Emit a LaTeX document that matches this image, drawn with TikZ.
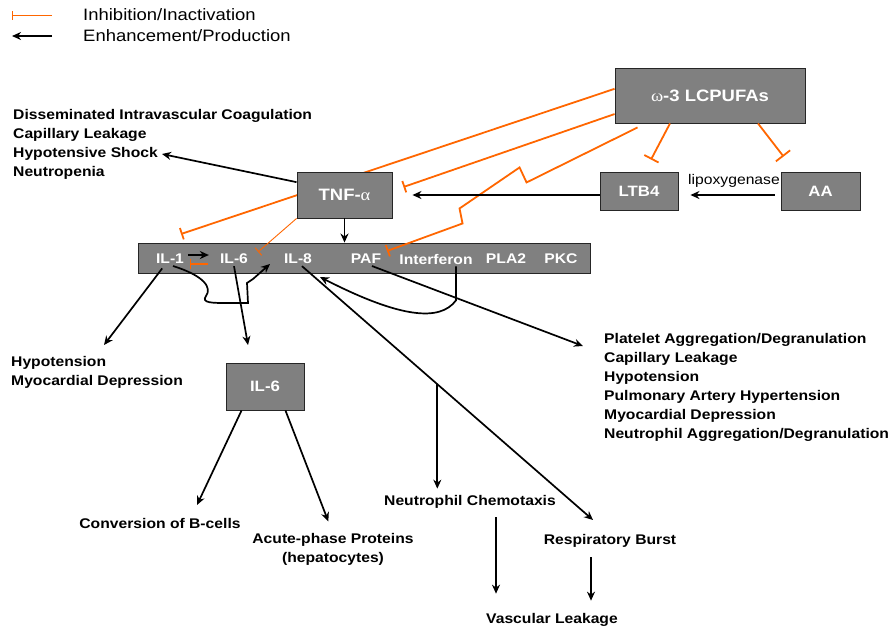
\documentclass[tikz,border=0pt]{standalone}
\usepackage{fontspec}
\setmainfont{Liberation Sans}[FakeStretch=1.12]
\newfontfamily\grkfont{Liberation Serif}[FakeStretch=1.12]
\newcommand{\grtxt}[1]{{\mdseries\grkfont #1}}
\usetikzlibrary{arrows.meta,positioning,calc}
\definecolor{boxgray}{RGB}{128,128,128}
\definecolor{inhorange}{RGB}{255,102,0}

\begin{document}
\begin{tikzpicture}[x=1pt,y=-1pt,
        box/.style={draw=black!85, line width=0.9pt, fill=boxgray, text=white,
            font=\fontsize{15}{18}\selectfont\bfseries, inner sep=0pt},
        lbl/.style={text=white, font=\fontsize{14}{18}\selectfont\bfseries, inner sep=2pt},
        eff/.style={font=\fontsize{14}{19}\selectfont\bfseries, align=left, inner sep=0pt},
        leg/.style={anchor=west, font=\fontsize{16.5}{20}\selectfont, inner sep=0pt},
        enh/.style={-{Stealth[length=9pt,width=8pt]}, line width=1.7pt},
        inh/.style={draw=inhorange, line width=1.8pt, -{Bar[width=12pt]}}]
        \useasboundingbox (0,0) rectangle (896,630);

        \node[leg] (leginh) at (83,15) {Inhibition/Inactivation};
        \node[leg] (legenh) at (83,36) {Enhancement/Production};
        \draw[inh, line width=1pt, -{Bar[width=9pt]}] ([xshift=-31pt]leginh.west) -- ++(-40,0);
        \draw[enh, line width=1.8pt] ([xshift=-31pt]legenh.west) -- ++(-40,0);

        \begin{scope}
            \node[box, minimum width=190pt, minimum height=55pt, font=\fontsize{16.5}{18}\selectfont\bfseries]
            (omega) at (710,95.5) {\grtxt{ω}-3 LCPUFAs};
            \node[box, minimum width=452pt, minimum height=30pt] (cyto) at (364,258) {};
            \coordinate (il1inh) at (181,234);
            \draw[inh] (omega.176) -- (il1inh);
            \node[box, minimum width=95pt, minimum height=46pt, font=\fontsize{16.5}{18}\selectfont\bfseries]
            (tnf) at (344.5,195) {TNF-\grtxt{α}};
            \node[box, minimum width=78pt, minimum height=38pt] (ltb) at (639,191) {LTB4};
            \node[box, minimum width=79pt, minimum height=38pt] (aa) at (820.5,191) {AA};
            \node[box, minimum width=78pt, minimum height=47pt] (il6b) at (265,386.5) {IL-6};
        \end{scope}

        \node[lbl] (il1) at (170,259) {IL-1};
        \node[lbl] (il6) at (234,259) {IL-6};
        \node[lbl] (il8) at (298,259) {IL-8};
        \node[lbl] (paf) at (366,259) {PAF};
        \node[lbl] (ifn) at (436,259) {Interferon};
        \node[lbl] (pla) at (506,259) {PLA2};
        \node[lbl] (pkc) at (561,259) {PKC};

        \node[eff, anchor=north west] (tnfeff) at (13,109.5)
        {Disseminated Intravascular Coagulation\\Capillary Leakage\\Hypotensive Shock\\Neutropenia};
        \node[eff, anchor=north west] (hypo) at (11,356) {Hypotension\\Myocardial Depression};
        \node[eff, anchor=north west] (pafeff) at (604,333)
        {Platelet Aggregation/Degranulation\\Capillary Leakage\\Hypotension\\Pulmonary Artery Hypertension\\Myocardial Depression\\Neutrophil Aggregation/Degranulation};
        \node[eff, anchor=base] (bcell) at (160,528) {Conversion of B-cells};
        \node[eff, anchor=north, align=center] (acute) at (333,533.5) {Acute-phase Proteins\\(hepatocytes)};
        \node[eff, anchor=base] (chemo) at (470,505) {Neutrophil Chemotaxis};
        \node[eff, anchor=base] (resp) at (610,544) {Respiratory Burst};
        \node[eff, anchor=base] (vasc) at (552,623) {Vascular Leakage};
        \node[anchor=base, font=\fontsize{14}{16}\selectfont, inner sep=0pt] (lipo) at (734,184) {lipoxygenase};

        \coordinate (shockin) at (162,154);
        \coordinate (tnfinh) at ([xshift=11pt,yshift=8pt]tnf.east);
        \coordinate (pafinh) at (387,251);
        \coordinate (ltbinh) at ([xshift=12pt,yshift=12pt]ltb.north);
        \coordinate (aainh) at ([xshift=3pt,yshift=15pt]aa.north west);
        \coordinate (il6inh) at ([xshift=8pt]il6.north east);
        \coordinate (hypoin) at (104,345);
        \coordinate (il8in) at (270,264);
        \coordinate (il6in) at (248,345);
        \coordinate (rbin) at (593,520);
        \coordinate (il8back) at (320,277);
        \coordinate (platin) at (583,346);
        \coordinate (bcin) at (197,505);

        \begin{scope}
            \draw[inh] (omega.191) -- (tnfinh);
            \draw[inh] ([shift={(23,4)}]omega.south west) -- ++(-111,55) -- ++(-7,-15)
                -- ++(-60,41) -- ++(3,15) -- (pafinh);
            \draw[inh, -{Bar[width=16pt]}] ([xshift=-40pt]omega.south) -- (ltbinh);
            \draw[inh, -{Bar[width=18pt]}] ([xshift=48pt]omega.south) -- (aainh);
            \draw[inh, line width=0.9pt, -{Bar[width=10pt]}] (tnf.south west) -- (il6inh);
            \draw[inh, line width=1.3pt, -{Bar[width=10pt]}] ([yshift=-5pt,xshift=-10pt]il6.west) -- ([yshift=-5pt,xshift=4pt]il1.east);
        \end{scope}

        \begin{scope}
            \draw[enh] (tnf.165) -- (shockin);
            \draw[enh] (tnf.south) -- (tnf.south |- cyto.north);
            \draw[enh, shorten >=20pt] (ltb.west |- tnf.east) -- (tnf.east);
            \draw[enh, shorten <=6pt, shorten >=12pt] (aa.west |- tnf.east) -- (ltb.east |- tnf.east);
            \draw[enh, shorten <=2pt, shorten >=9pt] ([yshift=4pt]il1.east) -- ([yshift=4pt]il6.west);
            \draw[enh, shorten <=3pt] ([xshift=-6pt]il1.south) -- (hypoin);
            \draw[enh] ([xshift=3pt]il1.south) .. controls (205,276) and (212,288) .. (206,296)
                .. controls (201,303) and (212,303) .. (228,303) -- (248,303) -- (247,283)
                -- (253,279) -- (il8in);
            \draw[enh] (il6.south) -- (il6in);
            \draw[enh] ([xshift=4pt]il8.south) -- (rbin);
            \coordinate (branch) at ($([xshift=4pt]il8.south)!0.465!(rbin)$);
            \draw[enh, shorten >=6pt] (branch) -- (branch |- chemo.north);
            \draw[enh] ([xshift=20pt]ifn.south) -- ++(0,34) .. controls (440,322) and (400,318) .. (il8back);
            \draw[enh] ([xshift=6pt]paf.south) -- (platin);
            \draw[enh] ([xshift=16pt]il6b.south west) -- (bcin);
            \draw[enh, shorten >=13pt] ([xshift=-19pt]il6b.south east) -- (acute.north);
            \draw[enh, shorten <=9pt, shorten >=19pt] ([xshift=26pt]chemo.south) -- ([xshift=26pt]chemo.south |- vasc.north);
            \draw[enh, shorten <=10pt, shorten >=12pt] ([xshift=-19pt]resp.south) -- ([xshift=-19pt]resp.south |- vasc.north);
        \end{scope}

        \end{tikzpicture}
\end{document}
